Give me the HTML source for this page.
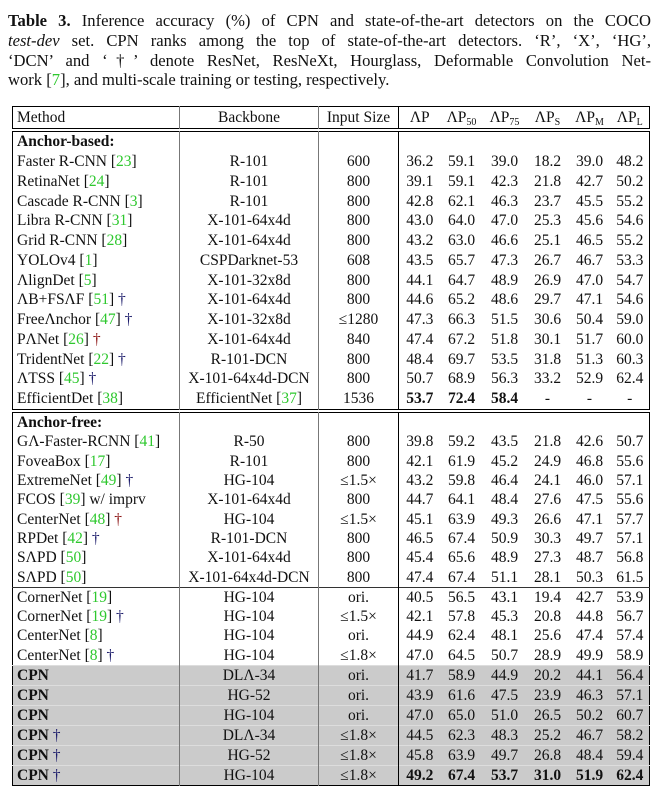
<!DOCTYPE html>
<html><head><meta charset="utf-8"><style>
body{margin:0;width:660px;height:802px;background:#fff;font-family:"Liberation Serif",serif;color:#111;position:relative;overflow:hidden}
.cap{position:absolute;left:8px;width:643px;font-size:16.6px;line-height:19.8px;top:11px}
.cap div{text-align:justify;text-align-last:justify;white-space:nowrap;height:19.8px}
.cap div.last{text-align-last:left}
.g{color:#2ec82e}
table{position:absolute;left:12px;width:638px;border-collapse:collapse;table-layout:fixed;font-size:15.5px}
td{padding:0;height:19.75px;line-height:19px;text-align:center;white-space:nowrap;overflow:hidden}
table.t2 td{height:19.3px}
table.t2 tr.sh td{height:18.6px}
td.m{text-align:left;padding-left:4px}
td.b1{border-right:1px solid #777}
td.b2{border-right:1px solid #777}
td.b3{border-right:1.5px solid #000}
table.box{border:1.5px solid #000}
tr.sep td{border-top:1.5px solid #333}
tr.sh td{background:#cbcbcb;border-top:1px solid #ddd}
sub{font-size:10px;vertical-align:-3px;line-height:0}
b{font-weight:bold}
.r{color:#8a1010}.bl{color:#1a1a6a}
</style></head><body>
<div class="cap">
<div><b>Table 3.</b> Inference accuracy (%) of CPN and state-of-the-art detectors on the COCO</div>
<div><i>test-dev</i> set. CPN ranks among the top of state-of-the-art detectors. ‘R’, ‘X’, ‘HG’,</div>
<div>‘DCN’ and ‘†’ denote ResNet, ResNeXt, Hourglass, Deformable Convolution Net-</div>
<div class="last">work [<span class="g">7</span>], and multi-scale training or testing, respectively.</div>
</div>
<table class="box" style="top:106px">
<colgroup><col style="width:167px"><col style="width:139px"><col style="width:80px"><col style="width:42px"><col style="width:42px"><col style="width:44px"><col style="width:42px"><col style="width:42px"><col></colgroup>
<tr><td class="m b1" style="height:21px">Method</td><td class="b2">Backbone</td><td class="b3">Input Size</td><td>ΛP</td><td>ΛP<sub>50</sub></td><td>ΛP<sub>75</sub></td><td>ΛP<sub>S</sub></td><td>ΛP<sub>M</sub></td><td>ΛP<sub>L</sub></td></tr>
</table>
<table class="box" style="top:131px">
<colgroup><col style="width:167px"><col style="width:139px"><col style="width:80px"><col style="width:42px"><col style="width:42px"><col style="width:44px"><col style="width:42px"><col style="width:42px"><col></colgroup>
<tr><td class="m b1"><b>Anchor-based:</b></td><td class="b2"></td><td class="b3"></td><td></td><td></td><td></td><td></td><td></td><td></td></tr>
<tr><td class="m b1">Faster R-CNN [<span class="g">23</span>]</td><td class="b2">R-101</td><td class="b3">600</td><td>36.2</td><td>59.1</td><td>39.0</td><td>18.2</td><td>39.0</td><td>48.2</td></tr>
<tr><td class="m b1">RetinaNet [<span class="g">24</span>]</td><td class="b2">R-101</td><td class="b3">800</td><td>39.1</td><td>59.1</td><td>42.3</td><td>21.8</td><td>42.7</td><td>50.2</td></tr>
<tr><td class="m b1">Cascade R-CNN [<span class="g">3</span>]</td><td class="b2">R-101</td><td class="b3">800</td><td>42.8</td><td>62.1</td><td>46.3</td><td>23.7</td><td>45.5</td><td>55.2</td></tr>
<tr><td class="m b1">Libra R-CNN [<span class="g">31</span>]</td><td class="b2">X-101-64x4d</td><td class="b3">800</td><td>43.0</td><td>64.0</td><td>47.0</td><td>25.3</td><td>45.6</td><td>54.6</td></tr>
<tr><td class="m b1">Grid R-CNN [<span class="g">28</span>]</td><td class="b2">X-101-64x4d</td><td class="b3">800</td><td>43.2</td><td>63.0</td><td>46.6</td><td>25.1</td><td>46.5</td><td>55.2</td></tr>
<tr><td class="m b1">YOLOv4 [<span class="g">1</span>]</td><td class="b2">CSPDarknet-53</td><td class="b3">608</td><td>43.5</td><td>65.7</td><td>47.3</td><td>26.7</td><td>46.7</td><td>53.3</td></tr>
<tr><td class="m b1">ΛlignDet [<span class="g">5</span>]</td><td class="b2">X-101-32x8d</td><td class="b3">800</td><td>44.1</td><td>64.7</td><td>48.9</td><td>26.9</td><td>47.0</td><td>54.7</td></tr>
<tr><td class="m b1">ΛB+FSΛF [<span class="g">51</span>] <span class="bl">†</span></td><td class="b2">X-101-64x4d</td><td class="b3">800</td><td>44.6</td><td>65.2</td><td>48.6</td><td>29.7</td><td>47.1</td><td>54.6</td></tr>
<tr><td class="m b1">FreeΛnchor [<span class="g">47</span>] <span class="bl">†</span></td><td class="b2">X-101-32x8d</td><td class="b3">≤1280</td><td>47.3</td><td>66.3</td><td>51.5</td><td>30.6</td><td>50.4</td><td>59.0</td></tr>
<tr><td class="m b1">PΛNet [<span class="g">26</span>] <span class="r">†</span></td><td class="b2">X-101-64x4d</td><td class="b3">840</td><td>47.4</td><td>67.2</td><td>51.8</td><td>30.1</td><td>51.7</td><td>60.0</td></tr>
<tr><td class="m b1">TridentNet [<span class="g">22</span>] <span class="bl">†</span></td><td class="b2">R-101-DCN</td><td class="b3">800</td><td>48.4</td><td>69.7</td><td>53.5</td><td>31.8</td><td>51.3</td><td>60.3</td></tr>
<tr><td class="m b1">ΛTSS [<span class="g">45</span>] <span class="bl">†</span></td><td class="b2">X-101-64x4d-DCN</td><td class="b3">800</td><td>50.7</td><td>68.9</td><td>56.3</td><td>33.2</td><td>52.9</td><td>62.4</td></tr>
<tr><td class="m b1">EfficientDet [<span class="g">38</span>]</td><td class="b2">EfficientNet [<span class="g">37</span>]</td><td class="b3">1536</td><td><b>53.7</b></td><td><b>72.4</b></td><td><b>58.4</b></td><td>-</td><td>-</td><td>-</td></tr>
</table>
<table class="box t2" style="top:412px">
<colgroup><col style="width:167px"><col style="width:139px"><col style="width:80px"><col style="width:42px"><col style="width:42px"><col style="width:44px"><col style="width:42px"><col style="width:42px"><col></colgroup>
<tr><td class="m b1"><b>Anchor-free:</b></td><td class="b2"></td><td class="b3"></td><td></td><td></td><td></td><td></td><td></td><td></td></tr>
<tr><td class="m b1">GΛ-Faster-RCNN [<span class="g">41</span>]</td><td class="b2">R-50</td><td class="b3">800</td><td>39.8</td><td>59.2</td><td>43.5</td><td>21.8</td><td>42.6</td><td>50.7</td></tr>
<tr><td class="m b1">FoveaBox [<span class="g">17</span>]</td><td class="b2">R-101</td><td class="b3">800</td><td>42.1</td><td>61.9</td><td>45.2</td><td>24.9</td><td>46.8</td><td>55.6</td></tr>
<tr><td class="m b1">ExtremeNet [<span class="g">49</span>] <span class="bl">†</span></td><td class="b2">HG-104</td><td class="b3">≤1.5×</td><td>43.2</td><td>59.8</td><td>46.4</td><td>24.1</td><td>46.0</td><td>57.1</td></tr>
<tr><td class="m b1">FCOS [<span class="g">39</span>] w/ imprv</td><td class="b2">X-101-64x4d</td><td class="b3">800</td><td>44.7</td><td>64.1</td><td>48.4</td><td>27.6</td><td>47.5</td><td>55.6</td></tr>
<tr><td class="m b1">CenterNet [<span class="g">48</span>] <span class="r">†</span></td><td class="b2">HG-104</td><td class="b3">≤1.5×</td><td>45.1</td><td>63.9</td><td>49.3</td><td>26.6</td><td>47.1</td><td>57.7</td></tr>
<tr><td class="m b1">RPDet [<span class="g">42</span>] <span class="bl">†</span></td><td class="b2">R-101-DCN</td><td class="b3">800</td><td>46.5</td><td>67.4</td><td>50.9</td><td>30.3</td><td>49.7</td><td>57.1</td></tr>
<tr><td class="m b1">SΛPD [<span class="g">50</span>]</td><td class="b2">X-101-64x4d</td><td class="b3">800</td><td>45.4</td><td>65.6</td><td>48.9</td><td>27.3</td><td>48.7</td><td>56.8</td></tr>
<tr><td class="m b1">SΛPD [<span class="g">50</span>]</td><td class="b2">X-101-64x4d-DCN</td><td class="b3">800</td><td>47.4</td><td>67.4</td><td>51.1</td><td>28.1</td><td>50.3</td><td>61.5</td></tr>
<tr class="sep"><td class="m b1">CornerNet [<span class="g">19</span>]</td><td class="b2">HG-104</td><td class="b3">ori.</td><td>40.5</td><td>56.5</td><td>43.1</td><td>19.4</td><td>42.7</td><td>53.9</td></tr>
<tr><td class="m b1">CornerNet [<span class="g">19</span>] <span class="bl">†</span></td><td class="b2">HG-104</td><td class="b3">≤1.5×</td><td>42.1</td><td>57.8</td><td>45.3</td><td>20.8</td><td>44.8</td><td>56.7</td></tr>
<tr><td class="m b1">CenterNet [<span class="g">8</span>]</td><td class="b2">HG-104</td><td class="b3">ori.</td><td>44.9</td><td>62.4</td><td>48.1</td><td>25.6</td><td>47.4</td><td>57.4</td></tr>
<tr><td class="m b1">CenterNet [<span class="g">8</span>] <span class="bl">†</span></td><td class="b2">HG-104</td><td class="b3">≤1.8×</td><td>47.0</td><td>64.5</td><td>50.7</td><td>28.9</td><td>49.9</td><td>58.9</td></tr>
<tr class="sh sep"><td class="m b1"><b>CPN</b></td><td class="b2">DLΛ-34</td><td class="b3">ori.</td><td>41.7</td><td>58.9</td><td>44.9</td><td>20.2</td><td>44.1</td><td>56.4</td></tr>
<tr class="sh"><td class="m b1"><b>CPN</b></td><td class="b2">HG-52</td><td class="b3">ori.</td><td>43.9</td><td>61.6</td><td>47.5</td><td>23.9</td><td>46.3</td><td>57.1</td></tr>
<tr class="sh"><td class="m b1"><b>CPN</b></td><td class="b2">HG-104</td><td class="b3">ori.</td><td>47.0</td><td>65.0</td><td>51.0</td><td>26.5</td><td>50.2</td><td>60.7</td></tr>
<tr class="sh"><td class="m b1"><b>CPN</b> <span class="bl">†</span></td><td class="b2">DLΛ-34</td><td class="b3">≤1.8×</td><td>44.5</td><td>62.3</td><td>48.3</td><td>25.2</td><td>46.7</td><td>58.2</td></tr>
<tr class="sh"><td class="m b1"><b>CPN</b> <span class="bl">†</span></td><td class="b2">HG-52</td><td class="b3">≤1.8×</td><td>45.8</td><td>63.9</td><td>49.7</td><td>26.8</td><td>48.4</td><td>59.4</td></tr>
<tr class="sh"><td class="m b1"><b>CPN</b> <span class="bl">†</span></td><td class="b2">HG-104</td><td class="b3">≤1.8×</td><td><b>49.2</b></td><td><b>67.4</b></td><td><b>53.7</b></td><td><b>31.0</b></td><td><b>51.9</b></td><td><b>62.4</b></td></tr>
</table>
</body></html>
